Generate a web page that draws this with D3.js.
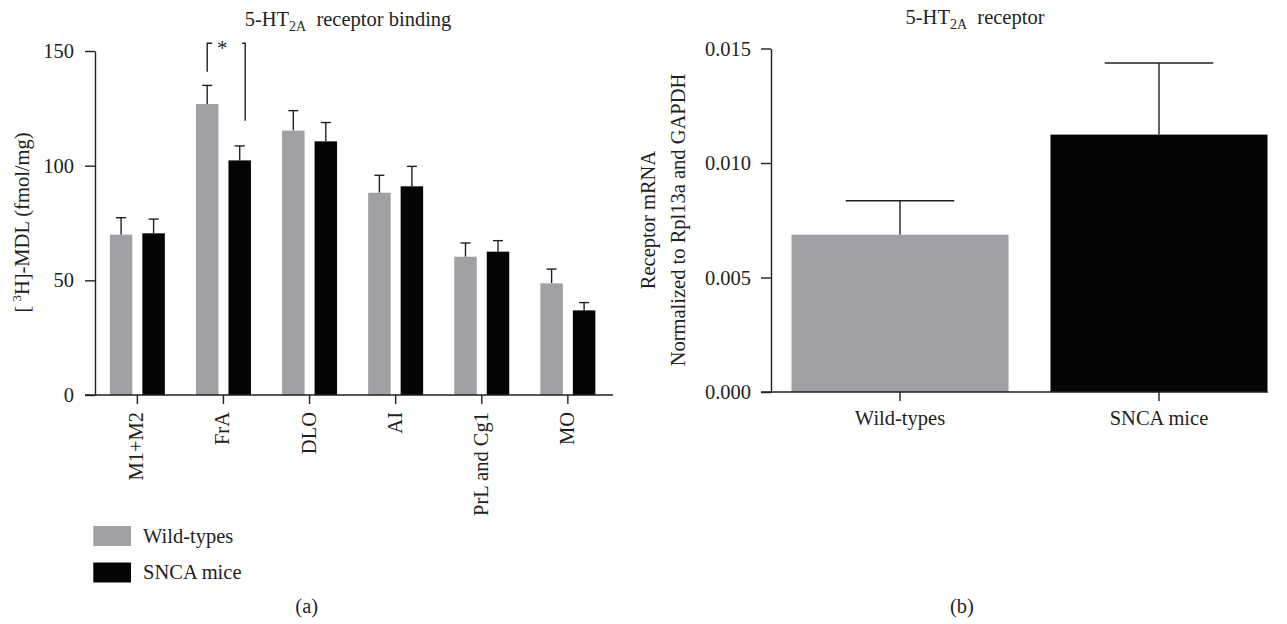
<!DOCTYPE html>
<html>
<head>
<meta charset="utf-8">
<script src="https://cdn.jsdelivr.net/npm/d3@7"></script>
<style>
  html, body { margin: 0; padding: 0; background: #ffffff; }
  svg { display: block; }
  text { font-family: "Liberation Serif", "Times New Roman", serif; fill: #231f20; }
</style>
</head>
<body>
<svg id="chart" width="1287" height="624"></svg>
<script>
// ---------- Data ----------
const categories = ["M1+M2", "FrA", "DLO", "AI", "PrL and Cg1", "MO"];
const seriesNames = ["Wild-types", "SNCA mice"];
const wtBinding = [69.9, 126.9, 115.3, 88.2, 60.3, 48.7];
const wtBindingSEM = [7.4, 8.1, 8.7, 7.6, 6.0, 6.2];
const sncaBinding = [70.5, 102.3, 110.6, 91.0, 62.5, 36.9];
const sncaBindingSEM = [6.2, 6.3, 8.2, 8.7, 4.8, 3.4];
const bindingTicks = [0, 50, 100, 150];

const mrnaGroups = ["Wild-types", "SNCA mice"];
const mrnaMeans = [0.00687, 0.01124];
const mrnaSEM = [0.00148, 0.00313];
const mrnaTicks = [0, 0.005, 0.010, 0.015];

// significance annotation (FrA): bracket top and leg ends in data units
const sigCategory = "FrA";
const sigTop = 153.4, sigLeftEnd = 141.0, sigRightEnd = 119.6;

const colors = { "Wild-types": "#a0a1a4", "SNCA mice": "#050505" };
const ink = "#231f20";
const FS = 20.5;

const svg = d3.select("#chart");

// ---------- Panel (a) ----------
const yL = d3.scaleLinear().domain([0, 150]).range([395, 51]);
const xL = d3.scaleBand().domain(categories).range([94.3, 610.9]);
const xIn = d3.scaleBand().domain(seriesNames).range([-27.5, 27.5]).paddingInner(0.3077);

const rowsL = categories.map((c, i) => ({
  cat: c,
  vals: [
    { s: "Wild-types", v: wtBinding[i], e: wtBindingSEM[i] },
    { s: "SNCA mice", v: sncaBinding[i], e: sncaBindingSEM[i] }
  ]
}));

const gA = svg.append("g");
const groups = gA.selectAll("g.grp").data(rowsL).join("g")
  .attr("transform", d => `translate(${xL(d.cat) + xL.bandwidth() / 2},0)`);

// error bars (upper only)
groups.selectAll("line.err").data(d => d.vals).join("line")
  .attr("x1", d => xIn(d.s) + xIn.bandwidth() / 2)
  .attr("x2", d => xIn(d.s) + xIn.bandwidth() / 2)
  .attr("y1", d => yL(d.v)).attr("y2", d => yL(d.v + d.e))
  .attr("stroke", ink).attr("stroke-width", 1.4);
groups.selectAll("line.cap").data(d => d.vals).join("line")
  .attr("x1", d => xIn(d.s) + xIn.bandwidth() / 2 - 5)
  .attr("x2", d => xIn(d.s) + xIn.bandwidth() / 2 + 5)
  .attr("y1", d => yL(d.v + d.e)).attr("y2", d => yL(d.v + d.e))
  .attr("stroke", ink).attr("stroke-width", 1.4);
groups.selectAll("rect").data(d => d.vals).join("rect")
  .attr("x", d => xIn(d.s)).attr("width", xIn.bandwidth())
  .attr("y", d => yL(d.v)).attr("height", d => yL(0) - yL(d.v))
  .attr("fill", d => colors[d.s]);

// y axis
const axL = gA.append("g").attr("transform", `translate(95,0)`)
  .call(d3.axisLeft(yL).tickValues(bindingTicks).tickSize(10).tickSizeOuter(0).tickPadding(11).tickFormat(d3.format("d")));
axL.select(".domain").attr("stroke", ink).attr("stroke-width", 1.4);
axL.selectAll(".tick line").attr("stroke", ink).attr("stroke-width", 1.4);
axL.selectAll(".tick text").attr("font-size", FS).attr("font-family", "Liberation Serif").attr("fill", ink);

// x axis
const axLx = gA.append("g").attr("transform", `translate(0,395)`)
  .call(d3.axisBottom(xL).tickSize(9).tickSizeOuter(0).tickPadding(0));
axLx.select(".domain").remove();
gA.append("line").attr("x1", 85).attr("x2", 613).attr("y1", 395).attr("y2", 395)
  .attr("stroke", ink).attr("stroke-width", 1.4);
axLx.selectAll(".tick line").attr("stroke", ink).attr("stroke-width", 1.4);
axLx.selectAll(".tick text")
  .attr("font-size", FS).attr("font-family", "Liberation Serif").attr("fill", ink)
  .attr("text-anchor", "end").attr("dy", null)
  .attr("transform", "translate(6,17) rotate(-90)")
  .attr("x", 0).attr("y", 0);

// significance bracket
const sigIdx = categories.indexOf(sigCategory);
const sx0 = xL(sigCategory) + xL.bandwidth() / 2 + xIn("Wild-types") + xIn.bandwidth() / 2;
const sx1 = xL(sigCategory) + xL.bandwidth() / 2 + xIn("SNCA mice") + xIn.bandwidth() / 2 + 5.5;
const br = gA.append("g").attr("stroke", ink).attr("stroke-width", 1.4).attr("fill", "none");
br.append("path").attr("d", `M${sx0},${yL(sigLeftEnd)}V${yL(sigTop)}H${sx0 + 5}`);
br.append("path").attr("d", `M${sx1 - 3},${yL(sigTop)}H${sx1}V${yL(sigRightEnd)}`);
gA.append("text").attr("x", (sx0 + sx1) / 2 - 4).attr("y", yL(sigTop) + 12)
  .attr("text-anchor", "middle").attr("font-size", 21).text("*");

// title (a)
const tA = gA.append("text").attr("x", 348).attr("y", 26).attr("text-anchor", "middle").attr("font-size", FS);
tA.append("tspan").text("5-HT");
tA.append("tspan").attr("font-size", 14).attr("dy", 5).text("2A");
tA.append("tspan").attr("dy", -5).text("\u2002receptor binding");

// y label (a)
const yLab = gA.append("text").attr("transform", "translate(29,222.5) rotate(-90)")
  .attr("text-anchor", "middle").attr("font-size", FS);
yLab.append("tspan").text("[\u2009");
yLab.append("tspan").attr("font-size", 13).attr("dy", -8).text("3");
yLab.append("tspan").attr("dy", 8).text("H]-MDL (fmol/mg)");

// legend
const leg = gA.append("g");
seriesNames.forEach((s, i) => {
  leg.append("rect").attr("x", 93.3).attr("y", 526 + i * 36.5).attr("width", 37.7).attr("height", 20)
    .attr("fill", colors[s]);
  leg.append("text").attr("x", 143).attr("y", 543 + i * 35.5).attr("font-size", FS).text(s);
});
gA.append("text").attr("x", 306.7).attr("y", 613).attr("text-anchor", "middle").attr("font-size", FS).text("(a)");

// ---------- Panel (b) ----------
const yR = d3.scaleLinear().domain([0, 0.015]).range([392, 48.5]);
const xR = d3.scaleBand().domain(mrnaGroups).range([791.5, 1267.5]).paddingInner(0.162);
const rowsR = mrnaGroups.map((g, i) => ({ g, v: mrnaMeans[i], e: mrnaSEM[i] }));

const gB = svg.append("g");
gB.selectAll("line.err").data(rowsR).join("line")
  .attr("x1", d => xR(d.g) + xR.bandwidth() / 2).attr("x2", d => xR(d.g) + xR.bandwidth() / 2)
  .attr("y1", d => yR(d.v)).attr("y2", d => yR(d.v + d.e))
  .attr("stroke", ink).attr("stroke-width", 1.4);
gB.selectAll("line.cap").data(rowsR).join("line")
  .attr("x1", d => xR(d.g) + xR.bandwidth() / 4).attr("x2", d => xR(d.g) + xR.bandwidth() * 3 / 4)
  .attr("y1", d => yR(d.v + d.e)).attr("y2", d => yR(d.v + d.e))
  .attr("stroke", ink).attr("stroke-width", 1.4);
gB.selectAll("rect").data(rowsR).join("rect")
  .attr("x", d => xR(d.g)).attr("width", xR.bandwidth())
  .attr("y", d => yR(d.v)).attr("height", d => yR(0) - yR(d.v))
  .attr("fill", d => colors[d.g]);

const axR = gB.append("g").attr("transform", `translate(771,0)`)
  .call(d3.axisLeft(yR).tickValues(mrnaTicks).tickSize(10).tickSizeOuter(0).tickPadding(10).tickFormat(d3.format(".3f")));
axR.select(".domain").attr("stroke", ink).attr("stroke-width", 1.4);
axR.selectAll(".tick line").attr("stroke", ink).attr("stroke-width", 1.4);
axR.selectAll(".tick text").attr("font-size", FS).attr("font-family", "Liberation Serif").attr("fill", ink);

const axRx = gB.append("g").attr("transform", `translate(0,392)`)
  .call(d3.axisBottom(xR).tickSize(9).tickSizeOuter(0).tickPadding(0));
axRx.select(".domain").remove();
gB.append("line").attr("x1", 761).attr("x2", 1268).attr("y1", 392).attr("y2", 392)
  .attr("stroke", ink).attr("stroke-width", 1.4);
axRx.selectAll(".tick line").attr("stroke", ink).attr("stroke-width", 1.4);
axRx.selectAll(".tick text").attr("font-size", FS).attr("font-family", "Liberation Serif").attr("fill", ink)
  .attr("dy", null).attr("y", 33);

const tB = gB.append("text").attr("x", 975).attr("y", 24).attr("text-anchor", "middle").attr("font-size", FS);
tB.append("tspan").text("5-HT");
tB.append("tspan").attr("font-size", 14).attr("dy", 5).text("2A");
tB.append("tspan").attr("dy", -5).text("\u2002receptor");

gB.append("text").attr("transform", "translate(655,220) rotate(-90)").attr("text-anchor", "middle")
  .attr("font-size", FS).text("Receptor mRNA");
gB.append("text").attr("transform", "translate(685,220) rotate(-90)").attr("text-anchor", "middle")
  .attr("font-size", FS).text("Normalized to Rpl13a and GAPDH");

gB.append("text").attr("x", 962).attr("y", 613).attr("text-anchor", "middle").attr("font-size", FS).text("(b)");
</script>
</body>
</html>
